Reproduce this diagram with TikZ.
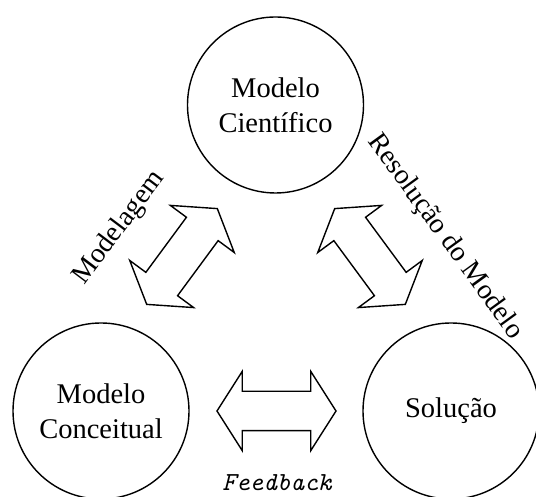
\documentclass[tikz,border=0pt]{standalone}
\usepackage{fontspec}
\setmainfont{Liberation Serif}
\usetikzlibrary{shapes.arrows}

\begin{document}
\begin{tikzpicture}[
    x=1pt, y=1pt,
    stage/.style={circle, draw, line width=1.4pt, minimum size=176pt, inner sep=0pt, align=center, font=\fontsize{28.5}{35}\selectfont},
    dblarrow/.style={double arrow, draw, line width=1.4pt, minimum height=119pt, double arrow head extend=20pt, double arrow tip angle=115, inner sep=0pt},
    label/.style={font=\fontsize{28}{34}\selectfont}
]
\useasboundingbox (0,0) rectangle (536,497);

% The three models
\node[stage] (sci) at (275.5,392) {Modelo\\Científico};
\node[stage] (conc) at (101,86) {Modelo\\Conceitual};
\node[stage] (sol) at (451,86) {Solução};

% Two-way arrows between them (shaft 38pt wide)
\node[dblarrow, rotate=53.6] (modarrow) at (182,240.5) {\rule{0pt}{38pt}};
\node[dblarrow, rotate=-53.6] (resarrow) at (370,240.5) {\rule{0pt}{38pt}};
\node[dblarrow] (fbarrow) at (276.5,86) {\rule{0pt}{38pt}};

% Labels
\node[label, rotate=53] (modlabel) at (119,269) {Modelagem};
\node[label, rotate=-54] (reslabel) at (445,260) {Resolução do Modelo};
\node[font=\fontsize{26}{30}\selectfont\ttfamily\itshape] (fblabel) at (277,14.5) {Feedback};

\end{tikzpicture}
\end{document}
